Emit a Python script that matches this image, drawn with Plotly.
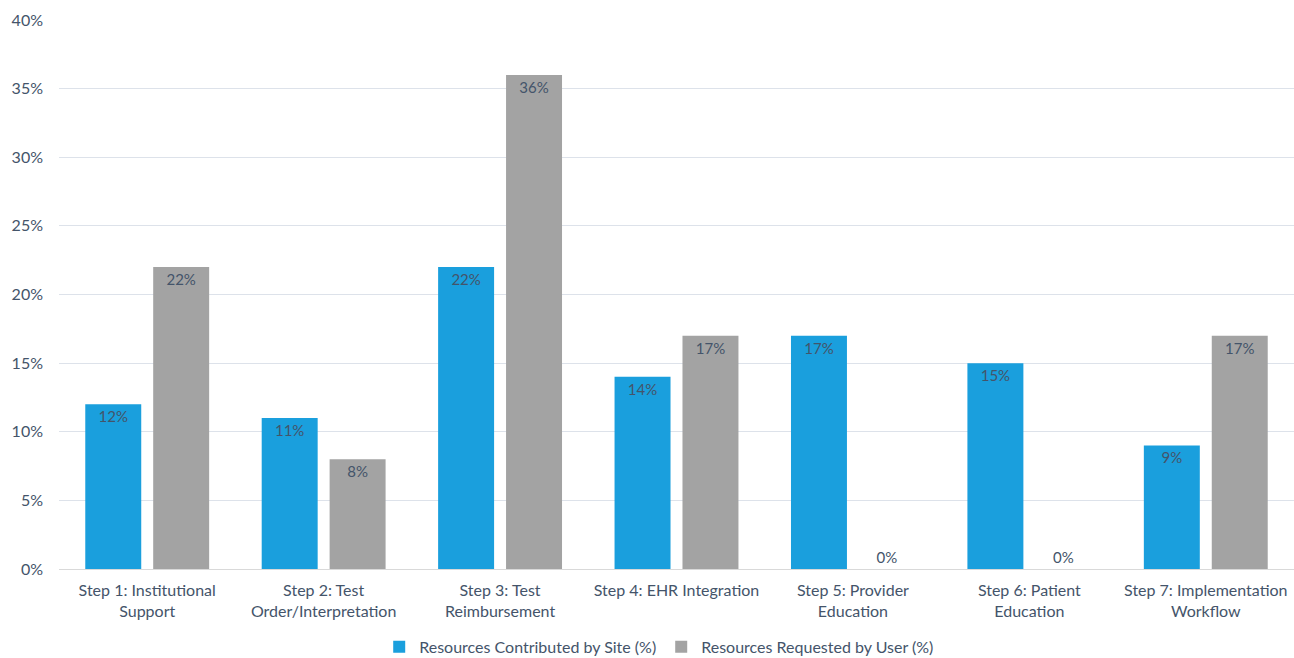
import plotly.graph_objects as go

categories = [
    "Step 1: Institutional<br>Support",
    "Step 2: Test<br>Order/Interpretation",
    "Step 3: Test<br>Reimbursement",
    "Step 4: EHR Integration",
    "Step 5: Provider<br>Education",
    "Step 6: Patient<br>Education",
    "Step 7: Implementation<br>Workflow",
]
contributed = [12, 11, 22, 14, 17, 15, 9]
requested = [22, 8, 36, 17, 0, 0, 17]

TEXT = "#44546A"
FONT = "Lato"

def positions(vals):
    return ["outside" if v == 0 else "inside" for v in vals]

fig = go.Figure()
fig.add_trace(go.Bar(
    x=categories, y=contributed, name="Resources Contributed by Site (%)",
    marker=dict(color="#1A9FDD", line=dict(width=0)),
    text=[f"{v}%" for v in contributed], textposition=positions(contributed),
    insidetextanchor="end", textfont=dict(color=TEXT, size=15, family=FONT),
))
fig.add_trace(go.Bar(
    x=categories, y=requested, name="Resources Requested by User (%)",
    marker=dict(color="#A3A3A3", line=dict(width=0)),
    text=[f"{v}%" for v in requested], textposition=positions(requested),
    insidetextanchor="end", textfont=dict(color=TEXT, size=15, family=FONT),
))

fig.update_layout(
    width=1294, height=658,
    margin=dict(l=59, r=0, t=20, b=89, autoexpand=False),
    paper_bgcolor="white", plot_bgcolor="white",
    barmode="group", bargap=0.23, bargroupgap=0.176,
    font=dict(family=FONT, color=TEXT, size=16),
    legend=dict(orientation="h", x=0.486, xanchor="center", y=-0.142, yanchor="middle",
                font=dict(size=16, color=TEXT), itemwidth=30, traceorder="normal"),
    xaxis=dict(showgrid=False, showline=True, linecolor="#D9D9D9", linewidth=1,
               tickfont=dict(size=16, color=TEXT), ticks="", ticklabelstandoff=7),
    yaxis=dict(range=[0, 40], dtick=5, ticksuffix="%", showgrid=True,
               gridcolor="#DDE2EA", gridwidth=1, zeroline=False, showline=False,
               tickfont=dict(size=16, color=TEXT), ticks="", ticklabelstandoff=15),
)

fig.write_html(
    "out.html",
    config={"displayModeBar": False},
    post_script="document.body.style.margin='0px';document.body.style.overflow='hidden';",
)
